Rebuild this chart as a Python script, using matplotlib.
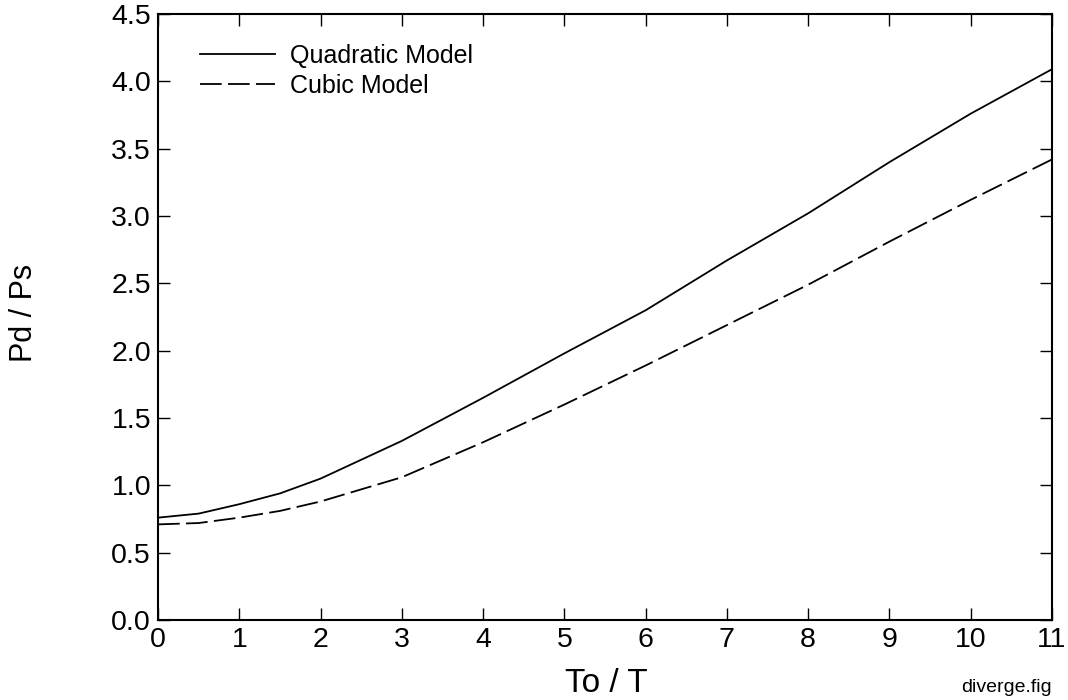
import numpy as np
import matplotlib.pyplot as plt

plt.rcParams['font.family'] = ['Liberation Sans', 'DejaVu Sans']

# data
x = [0, 0.5, 1, 1.5, 2, 3, 4, 5, 6, 7, 8, 9, 10, 11]
quadratic = [0.76, 0.79, 0.86, 0.94, 1.05, 1.33, 1.65, 1.98, 2.30, 2.67, 3.02, 3.40, 3.76, 4.09]
cubic = [0.71, 0.72, 0.76, 0.81, 0.88, 1.06, 1.32, 1.60, 1.89, 2.19, 2.49, 2.81, 3.12, 3.42]
yticks = [0.0, 0.5, 1.0, 1.5, 2.0, 2.5, 3.0, 3.5, 4.0, 4.5]

fig = plt.figure(figsize=(10.68, 7), dpi=100)
ax = fig.add_axes([0.148, 0.1143, 0.837, 0.8657])

ax.plot(x, quadratic, color='black', lw=1.3, label='Quadratic Model')
ax.plot(x, cubic, color='black', lw=1.3, dashes=(12, 3.5), label='Cubic Model')

ax.set_xlim(0, 11)
ax.set_ylim(0, 4.5)
ax.set_xticks(range(0, 12))
ax.set_yticks(yticks)
ax.set_yticklabels([f'{v:.1f}' for v in yticks])
ax.tick_params(direction='in', top=True, right=True, length=8.5, width=1,
               labelsize=20.5, pad=5)
for s in ax.spines.values():
    s.set_linewidth(1.5)

ax.set_xlabel('To / T', fontsize=24)
ax.xaxis.set_label_coords(0.501, -0.079)
ax.set_ylabel('Pd / Ps', fontsize=22)
ax.yaxis.set_label_coords(-0.133, 0.507)

ax.legend(loc='upper left', frameon=False, fontsize=18, handlelength=3.0,
          handletextpad=0.6, labelspacing=0.25, borderaxespad=0, borderpad=0,
          bbox_to_anchor=(0.047, 0.951))

fig.text(0.985, 0.012, 'diverge.fig', ha='right', va='baseline', fontsize=14)

fig.savefig('out.png', dpi=100)
